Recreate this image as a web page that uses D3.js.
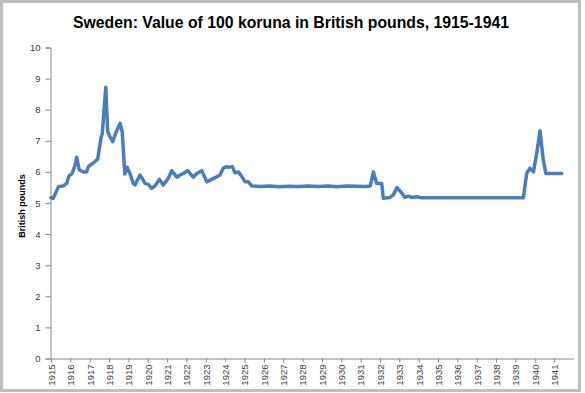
<!DOCTYPE html>
<html>
<head>
<meta charset="utf-8">
<script src="https://cdn.jsdelivr.net/npm/d3@7"></script>
<style>
  body { margin: 0; background: #fff; }
  text { font-family: "Liberation Sans", Arial, sans-serif; }
</style>
</head>
<body>
<script>
const width = 585;
const height = 393;

// decimal years and value of 100 kronor in pounds
const dates = [
  1915.00, 1915.12, 1915.38, 1915.64, 1915.81, 1915.93, 1916.10, 1916.24, 1916.33, 1916.46,
  1916.67, 1916.84, 1916.93, 1917.10, 1917.27, 1917.41, 1917.50, 1917.58, 1917.65, 1917.74,
  1917.83, 1917.88, 1917.93, 1918.05, 1918.19, 1918.31, 1918.45, 1918.57, 1918.68, 1918.79,
  1918.82, 1918.93, 1919.08, 1919.25, 1919.34, 1919.60, 1919.86, 1920.03, 1920.20, 1920.37,
  1920.60, 1920.80, 1921.06, 1921.24, 1921.50, 1921.67, 1921.84, 1922.06, 1922.35, 1922.53,
  1922.79, 1923.05, 1923.30, 1923.56, 1923.73, 1923.90, 1924.08, 1924.16, 1924.37, 1924.51,
  1924.68, 1924.86, 1925.03, 1925.20, 1925.37, 1925.80, 1926.30, 1926.80, 1927.30, 1927.80,
  1928.30, 1928.80, 1929.30, 1929.80, 1930.30, 1930.80, 1931.23, 1931.50, 1931.66, 1931.83,
  1932.09, 1932.17, 1932.52, 1932.69, 1932.87, 1933.12, 1933.29, 1933.47, 1933.64, 1933.90,
  1934.16, 1935.00, 1936.00, 1937.00, 1938.00, 1939.00, 1939.41, 1939.58, 1939.75, 1939.93,
  1940.10, 1940.27, 1940.44, 1940.57, 1941.00, 1941.39
];
const values = [
  5.17, 5.15, 5.52, 5.55, 5.63, 5.87, 5.95, 6.22, 6.47, 6.06,
  6.00, 6.00, 6.17, 6.25, 6.33, 6.40, 6.76, 7.08, 7.24, 7.99,
  8.72, 7.99, 7.29, 7.13, 6.97, 7.19, 7.40, 7.56, 7.29, 6.17,
  5.93, 6.15, 5.95, 5.63, 5.58, 5.90, 5.63, 5.60, 5.47, 5.55,
  5.76, 5.58, 5.79, 6.04, 5.83, 5.90, 5.95, 6.04, 5.83, 5.95,
  6.04, 5.68, 5.76, 5.84, 5.90, 6.12, 6.17, 6.15, 6.17, 5.97,
  6.00, 5.85, 5.68, 5.68, 5.55, 5.53, 5.55, 5.52, 5.54, 5.53,
  5.55, 5.53, 5.55, 5.52, 5.55, 5.54, 5.53, 5.55, 6.00, 5.63,
  5.63, 5.15, 5.18, 5.26, 5.50, 5.33, 5.18, 5.22, 5.18, 5.20,
  5.17, 5.17, 5.17, 5.17, 5.17, 5.17, 5.17, 5.95, 6.12, 6.00,
  6.60, 7.32, 6.38, 5.95, 5.95, 5.95
];
const yearTicks = d3.range(1915, 1942);
const valueTicks = d3.range(0, 11);

const title = "Sweden: Value of 100 koruna in British pounds, 1915-1941";
const yTitle = "British pounds";

const svg = d3.select("body").append("svg")
  .attr("width", width)
  .attr("height", height);

// outer frame
svg.append("rect")
  .attr("x", 1.5).attr("y", 1.5)
  .attr("width", 578).attr("height", 389)
  .attr("fill", "#fff")
  .attr("stroke", "#bfbfbf")
  .attr("stroke-width", 3);

const x = d3.scaleLinear().domain([1915, 1942]).range([51, 573.5]);
const y = d3.scaleLinear().domain([0, 10]).range([358.5, 47.5]);

// y axis
const yAxis = svg.append("g")
  .attr("transform", "translate(50.5,0)")
  .call(d3.axisLeft(y).tickValues(valueTicks).tickSize(5).tickPadding(5).tickFormat(d3.format("d")));
yAxis.select(".domain").attr("stroke", "#868686");
yAxis.selectAll(".tick line").attr("stroke", "#868686");
yAxis.selectAll(".tick text")
  .attr("font-size", 9.5)
  .attr("fill", "#404040")
  .attr("font-family", "Liberation Sans, Arial, sans-serif");

// x axis
const xAxis = svg.append("g")
  .attr("transform", "translate(0,358.5)")
  .call(d3.axisBottom(x).tickValues(yearTicks).tickSize(4).tickSizeOuter(0).tickFormat(d3.format("d")));
xAxis.select(".domain").attr("stroke", "#868686");
xAxis.selectAll(".tick line").attr("stroke", "#868686");
xAxis.selectAll(".tick text")
  .attr("font-size", 9.5)
  .attr("fill", "#404040")
  .attr("font-family", "Liberation Sans, Arial, sans-serif")
  .attr("text-anchor", "end")
  .attr("transform", "rotate(-90)")
  .attr("x", -6)
  .attr("y", 0)
  .attr("dy", "0.35em");

// line
const line = d3.line()
  .x((d, i) => x(dates[i]))
  .y((d) => y(d));

svg.append("path")
  .datum(values)
  .attr("d", line)
  .attr("fill", "none")
  .attr("stroke", "#4a7ebb")
  .attr("stroke-width", 3.5)
  .attr("stroke-linejoin", "round")
  .attr("stroke-linecap", "round");

// titles
svg.append("text")
  .attr("x", 291)
  .attr("y", 28)
  .attr("text-anchor", "middle")
  .attr("font-size", 17)
  .attr("font-weight", "bold")
  .attr("fill", "#000")
  .attr("textLength", 436)
  .attr("lengthAdjust", "spacingAndGlyphs")
  .text(title);

svg.append("text")
  .attr("transform", "translate(25,206) rotate(-90)")
  .attr("text-anchor", "middle")
  .attr("font-size", 9)
  .attr("font-weight", "bold")
  .attr("fill", "#000")
  .text(yTitle);
</script>
</body>
</html>
